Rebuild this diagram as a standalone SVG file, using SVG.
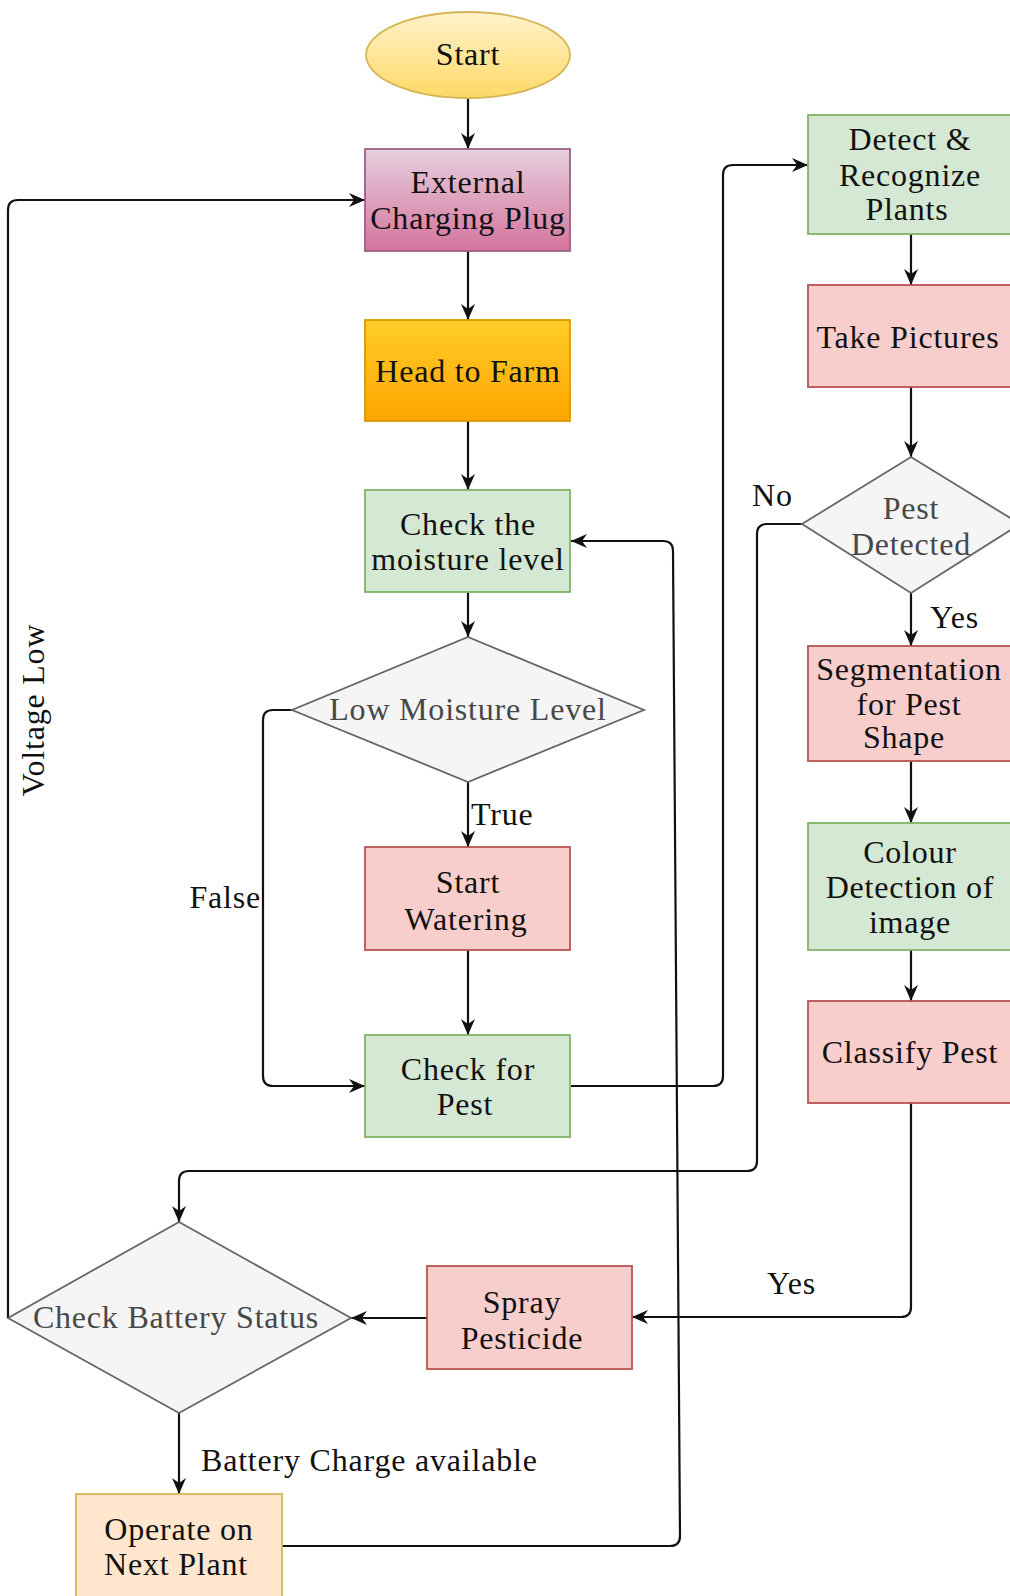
<svg xmlns="http://www.w3.org/2000/svg" width="1010" height="1596" viewBox="0 0 1010 1596">
<style>
  text { font-family: "Liberation Serif", "Times New Roman", serif; font-size: 32px; fill: #111111; letter-spacing: 0.8px; }
  .c { text-anchor: middle; }
  .dt { fill: #484848; }
  .edge { fill: none; stroke: #111111; stroke-width: 2.2; marker-end: url(#arr); }
  .green { fill: #d5e8d4; stroke: #82b366; stroke-width: 1.8; }
  .red { fill: #f8cecc; stroke: #b85450; stroke-width: 1.8; }
  .dia { fill: #f5f5f5; stroke: #666666; stroke-width: 1.8; }
</style>
<defs>
  <marker id="arr" markerUnits="userSpaceOnUse" markerWidth="17" markerHeight="14" refX="16" refY="7" orient="auto">
    <path d="M0,0 L16,7 L0,14 L5,7 Z" fill="#111111"/>
  </marker>
  <linearGradient id="gStart" x1="0" y1="0" x2="0" y2="1">
    <stop offset="0" stop-color="#fff2cc"/>
    <stop offset="1" stop-color="#ffd966"/>
  </linearGradient>
  <linearGradient id="gPlug" x1="0" y1="0" x2="0" y2="1">
    <stop offset="0" stop-color="#e6d0de"/>
    <stop offset="1" stop-color="#d5739d"/>
  </linearGradient>
  <linearGradient id="gFarm" x1="0" y1="0" x2="0" y2="1">
    <stop offset="0" stop-color="#ffcd28"/>
    <stop offset="1" stop-color="#ffa500"/>
  </linearGradient>
</defs>

<g id="connectors">
  <path class="edge" d="M468,98 V149"/>
  <path class="edge" d="M468,251 V320"/>
  <path class="edge" d="M468,421 V490"/>
  <path class="edge" d="M468,592 V637"/>
  <path class="edge" d="M468,782 V847"/>
  <path class="edge" d="M468,950 V1035"/>
  <path class="edge" d="M292,710 H273 Q263,710 263,720 V1076 Q263,1086 273,1086 H365"/>
  <path class="edge" d="M571,1086 H713 Q723,1086 723,1076 V175 Q723,165 733,165 H808"/>
  <path class="edge" d="M911,234 V285"/>
  <path class="edge" d="M911,387 V457"/>
  <path class="edge" d="M911,593 V646"/>
  <path class="edge" d="M911,761 V823"/>
  <path class="edge" d="M911,950 V1001"/>
  <path class="edge" d="M802,524 H767 Q757,524 757,534 V1161 Q757,1171 747,1171 H189 Q179,1171 179,1181 V1222"/>
  <path class="edge" d="M911,1103 V1307 Q911,1317 901,1317 H632"/>
  <path class="edge" d="M427,1318 H351"/>
  <path class="edge" d="M8,1318 V210 Q8,200 18,200 H365"/>
  <path class="edge" d="M179,1413 V1494"/>
  <path class="edge" d="M282,1546 H670 Q680,1546 680,1536 L673,551 Q673,541 663,541 H571"/>
  <text x="471" y="825">True</text>
  <text x="261" y="908" text-anchor="end">False</text>
  <text x="752" y="506">No</text>
  <text x="930" y="628">Yes</text>
  <text x="767" y="1294">Yes</text>
  <text x="201" y="1471">Battery Charge available</text>
  <text class="c" transform="translate(44,710) rotate(-90)">Voltage Low</text>
</g>

<g id="start">
  <ellipse cx="468" cy="55" rx="102" ry="43" fill="url(#gStart)" stroke="#d6b656" stroke-width="1.8"/>
  <text class="c" x="468" y="65">Start</text>
</g>
<g id="external-charging-plug">
  <rect x="365" y="149" width="205" height="102" fill="url(#gPlug)" stroke="#996185" stroke-width="1.8"/>
  <text class="c" x="468" y="193">External</text>
  <text class="c" x="468" y="229">Charging Plug</text>
</g>
<g id="head-to-farm">
  <rect x="365" y="320" width="205" height="101" fill="url(#gFarm)" stroke="#d79b00" stroke-width="1.8"/>
  <text class="c" x="468" y="382">Head to Farm</text>
</g>
<g id="check-moisture">
  <rect class="green" x="365" y="490" width="205" height="102"/>
  <text class="c" x="468" y="535">Check the</text>
  <text class="c" x="468" y="570">moisture level</text>
</g>
<g id="low-moisture">
  <polygon class="dia" points="468,637 644,710 468,782 292,710"/>
  <text class="c dt" x="468" y="720">Low Moisture Level</text>
</g>
<g id="start-watering">
  <rect class="red" x="365" y="847" width="205" height="103"/>
  <text class="c" x="468" y="893">Start</text>
  <text class="c" x="466" y="930">Watering</text>
</g>
<g id="check-for-pest">
  <rect class="green" x="365" y="1035" width="205" height="102"/>
  <text class="c" x="468" y="1080">Check for</text>
  <text class="c" x="465" y="1115">Pest</text>
</g>
<g id="detect-recognize">
  <rect class="green" x="808" y="115" width="206" height="119"/>
  <text class="c" x="910" y="150">Detect &amp;</text>
  <text class="c" x="910" y="186">Recognize</text>
  <text class="c" x="907" y="220">Plants</text>
</g>
<g id="take-pictures">
  <rect class="red" x="808" y="285" width="206" height="102"/>
  <text class="c" x="908" y="348">Take Pictures</text>
</g>
<g id="pest-detected">
  <polygon class="dia" points="911,457 1020,524 911,593 802,524"/>
  <text class="c dt" x="911" y="519">Pest</text>
  <text class="c dt" x="911" y="555">Detected</text>
</g>
<g id="segmentation">
  <rect class="red" x="808" y="646" width="206" height="115"/>
  <text class="c" x="909" y="680">Segmentation</text>
  <text class="c" x="909" y="715">for Pest</text>
  <text class="c" x="904" y="748">Shape</text>
</g>
<g id="colour-detection">
  <rect class="green" x="808" y="823" width="206" height="127"/>
  <text class="c" x="910" y="863">Colour</text>
  <text class="c" x="910" y="898">Detection of</text>
  <text class="c" x="910" y="933">image</text>
</g>
<g id="classify-pest">
  <rect class="red" x="808" y="1001" width="206" height="102"/>
  <text class="c" x="910" y="1063">Classify Pest</text>
</g>
<g id="spray-pesticide">
  <rect class="red" x="427" y="1266" width="205" height="103"/>
  <text class="c" x="522" y="1313">Spray</text>
  <text class="c" x="522" y="1349">Pesticide</text>
</g>
<g id="check-battery">
  <polygon class="dia" points="179,1222 351,1318 179,1413 8,1318"/>
  <text class="c dt" x="176" y="1328">Check Battery Status</text>
</g>
<g id="operate-next-plant">
  <rect x="76" y="1494" width="206" height="110" fill="#ffe6cc" stroke="#d6b656" stroke-width="1.8"/>
  <text class="c" x="179" y="1540">Operate on</text>
  <text class="c" x="176" y="1575">Next Plant</text>
</g>
</svg>
